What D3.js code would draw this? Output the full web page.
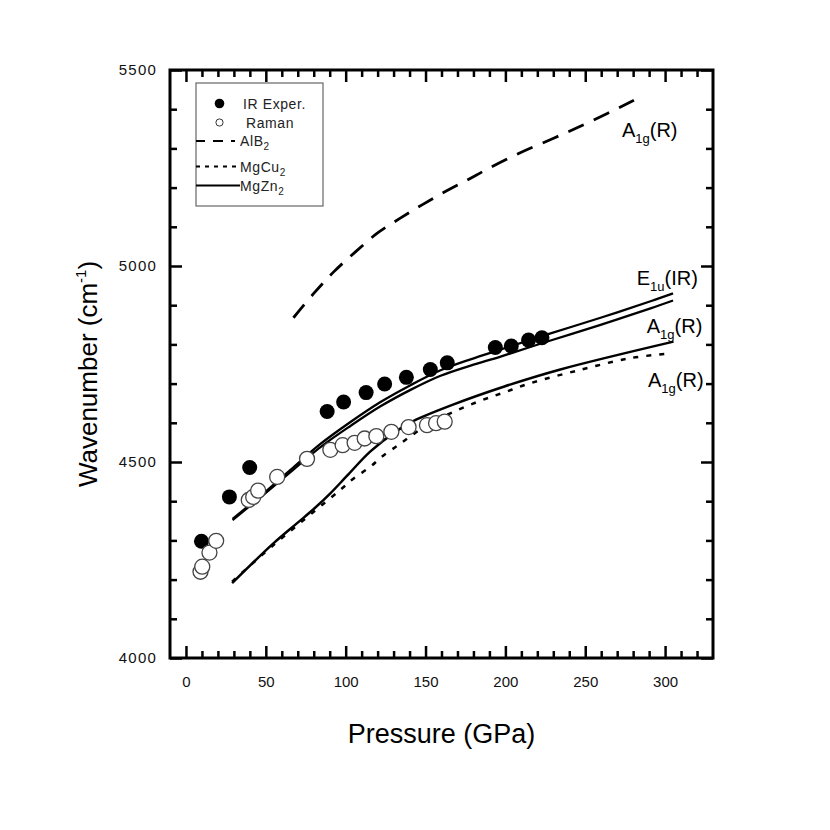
<!DOCTYPE html>
<html>
<head>
<meta charset="utf-8">
<script src="https://d3js.org/d3.v7.min.js"></script>
<style>
body { margin: 0; background: #fff; }
svg { font-family: "Liberation Sans", Arial, sans-serif; }
.tick text { fill: #111; }
.xt text { font-size: 15px; }
.yt text { font-size: 15px; letter-spacing: 1.2px; }
.tick line { stroke: #000; stroke-width: 2.5; }
.legend text { font-size: 14px; letter-spacing: 0.6px; fill: #222; }
.mode text { font-size: 20px; }
</style>
</head>
<body>
<script>

// IR experiment (filled) and Raman (open) points, pressure in GPa / wavenumber in cm-1
var irP = [9.7, 27.2, 39.9, 88.4, 98.7, 112.8, 124.4, 138, 153, 163.6, 193.7, 203.7, 214.5, 222.9];
var irW = [4298, 4411, 4486, 4629, 4653, 4677, 4699, 4716, 4736, 4753, 4792, 4796, 4811, 4817];

var ramanP = [9.1, 10.2, 14.7, 18.9, 39.3, 42.1, 45.2, 57.1, 75.8, 90.4, 98.1, 105.6, 111.9, 119.2, 128.6, 139.4, 150.9, 156.6, 162];
var ramanW = [4220, 4233, 4269, 4299, 4403, 4411, 4427, 4462, 4508, 4531, 4543, 4549, 4560, 4566, 4577, 4589, 4594, 4599, 4603];

// AlB2 A1g(R) - dashed
var alb2P = [67.3, 80, 92.5, 106.1, 119.6, 134.2, 147.8, 162.4, 176, 189.5, 208.3, 230.2, 251.1, 280.5];
var alb2W = [4868, 4930, 4985, 5036, 5083, 5122, 5156, 5190, 5219, 5249, 5287, 5326, 5364, 5423];

// E1u(IR) pair - both solid
var e1uP = [29.2, 46.6, 65.4, 84.2, 103, 121.8, 140.6, 159.4, 178.2, 197, 228.3, 259.6, 290.9, 305];
var e1uAW = [4355, 4413, 4480, 4546, 4602, 4653, 4696, 4734, 4762, 4787, 4828, 4868, 4910, 4930];
var e1uBW = [4352, 4410, 4474, 4538, 4592, 4642, 4684, 4720, 4746, 4769, 4810, 4850, 4892, 4912];

// MgZn2 A1g(R) - solid
var mgzn2P = [28.9, 54.9, 69.6, 80, 90.4, 100.9, 115.5, 132.2, 142.6, 167.6, 198.9, 234.4, 305.3];
var mgzn2W = [4191, 4293, 4344, 4380, 4420, 4465, 4527, 4580, 4605, 4647, 4692, 4736, 4807];

// MgCu2 A1g(R) - dotted
var mgcu2P = [28.9, 54.8, 80, 96.7, 105, 115.5, 122.8, 132.2, 139.4, 150, 165.5, 182.2, 198.9, 215.6, 246.9, 278.2, 303.2];
var mgcu2W = [4195, 4288, 4373, 4429, 4458, 4488, 4514, 4541, 4562, 4592, 4624, 4653, 4677, 4701, 4735, 4765, 4777];

// tick values
var xMajor = [0, 50, 100, 150, 200, 250, 300];
var xMinor = d3.range(0, 330, 10).filter(function(v) { return v % 50 != 0; });
var yMajor = [4000, 4500, 5000, 5500];
var yMinor = d3.range(4100, 5500, 100).filter(function(v) { return v % 500 != 0; });

// mode labels: [pressure, wavenumber, main, sub, tail]
var modeLabels = [
    [273, 5330, "A", "1g", "(R)"],
    [282.2, 4952, "E", "1u", "(IR)"],
    [288.5, 4828, "A", "1g", "(R)"],
    [289.3, 4692, "A", "1g", "(R)"]
];

var margin = {top: 70, left: 170};
var width = 543, height = 588;

var svg = d3.select("body").append("svg")
    .attr("width", 830)
    .attr("height", 830);

var g = svg.append("g")
    .attr("transform", "translate(" + margin.left + "," + margin.top + ")");

var x = d3.scaleLinear().domain([-10, 330]).range([0, width]);
var y = d3.scaleLinear().domain([4000, 5500]).range([height, 0]);

function zip(ps, ws) { return ps.map(function(p, i) { return [p, ws[i]]; }); }

// axes, ticks pointing inwards on all four sides
function addAxis(axis, cls, tr) {
    var a = g.append("g").attr("class", cls).attr("transform", tr).call(axis);
    a.select(".domain").remove();
    return a;
}

addAxis(d3.axisBottom(x).tickValues(xMajor).tickSize(-12).tickPadding(18).tickFormat(d3.format("d")), "xt", "translate(0," + height + ")");
addAxis(d3.axisBottom(x).tickValues(xMinor).tickSize(-7).tickFormat(""), "xt", "translate(0," + height + ")");
addAxis(d3.axisTop(x).tickValues(xMajor).tickSize(-12).tickFormat(""), "xt", "translate(0,0)");
addAxis(d3.axisTop(x).tickValues(xMinor).tickSize(-7).tickFormat(""), "xt", "translate(0,0)");

addAxis(d3.axisLeft(y).tickValues(yMajor).tickSize(-12).tickPadding(13).tickFormat(d3.format("d")), "yt", "translate(0,0)");
addAxis(d3.axisLeft(y).tickValues(yMinor).tickSize(-7).tickFormat(""), "yt", "translate(0,0)");
addAxis(d3.axisRight(y).tickValues(yMajor).tickSize(-12).tickFormat(""), "yt", "translate(" + width + ",0)");
addAxis(d3.axisRight(y).tickValues(yMinor).tickSize(-7).tickFormat(""), "yt", "translate(" + width + ",0)");

g.append("rect")
    .attr("width", width)
    .attr("height", height)
    .attr("fill", "none")
    .attr("stroke", "#000")
    .attr("stroke-width", 3);

// curves
var line = d3.line()
    .x(function(d) { return x(d[0]); })
    .y(function(d) { return y(d[1]); })
    .curve(d3.curveCatmullRom.alpha(0.5));

var curves = [
    [zip(alb2P, alb2W), "17,11", 2.8],
    [zip(e1uP, e1uAW), null, 2.3],
    [zip(e1uP, e1uBW), null, 2.3],
    [zip(mgzn2P, mgzn2W), null, 2.5],
    [zip(mgcu2P, mgcu2W), "5,8", 2.5]
];

curves.forEach(function(c) {
    g.append("path")
        .datum(c[0])
        .attr("d", line)
        .attr("fill", "none")
        .attr("stroke", "#000")
        .attr("stroke-width", c[2])
        .attr("stroke-dasharray", c[1]);
});

// points
g.selectAll(".ir")
    .data(zip(irP, irW))
  .enter().append("circle")
    .attr("class", "ir")
    .attr("cx", function(d) { return x(d[0]); })
    .attr("cy", function(d) { return y(d[1]); })
    .attr("r", 7.5)
    .attr("fill", "#000");

g.selectAll(".raman")
    .data(zip(ramanP, ramanW))
  .enter().append("circle")
    .attr("class", "raman")
    .attr("cx", function(d) { return x(d[0]); })
    .attr("cy", function(d) { return y(d[1]); })
    .attr("r", 7.5)
    .attr("fill", "#fff")
    .attr("stroke", "#444")
    .attr("stroke-width", 1.3);

// mode labels with subscripts
var modes = g.append("g").attr("class", "mode");
modeLabels.forEach(function(m) {
    var t = modes.append("text")
        .attr("x", x(m[0]))
        .attr("y", y(m[1]));
    t.append("tspan").text(m[2]);
    t.append("tspan").attr("font-size", "13px").attr("dy", 6).text(m[3]);
    t.append("tspan").attr("dy", -6).text(m[4]);
});

// axis titles
svg.append("text")
    .attr("x", 441.5)
    .attr("y", 743)
    .attr("text-anchor", "middle")
    .style("font-size", "27px")
    .text("Pressure (GPa)");

var yt = svg.append("text")
    .attr("transform", "translate(97,374) rotate(-90)")
    .attr("text-anchor", "middle")
    .style("font-size", "26px");
yt.append("tspan").text("Wavenumber (cm");
yt.append("tspan").attr("font-size", "15px").attr("dy", -11).text("-1");
yt.append("tspan").attr("dy", 11).text(")");

// legend
var legend = svg.append("g").attr("class", "legend");

legend.append("rect")
    .attr("x", 196).attr("y", 83)
    .attr("width", 127).attr("height", 123)
    .attr("fill", "#fff")
    .attr("stroke", "#666")
    .attr("stroke-width", 1.2);

legend.append("circle").attr("cx", 219.5).attr("cy", 103.5).attr("r", 4.8).attr("fill", "#000");
legend.append("circle").attr("cx", 219.5).attr("cy", 122.5).attr("r", 3.6)
    .attr("fill", "#fff").attr("stroke", "#333").attr("stroke-width", 1);

legend.append("line").attr("x1", 196).attr("x2", 235).attr("y1", 141).attr("y2", 141)
    .attr("stroke", "#000").attr("stroke-width", 2.2).attr("stroke-dasharray", "10,8").attr("stroke-dashoffset", 1);
legend.append("line").attr("x1", 196).attr("x2", 237).attr("y1", 166.5).attr("y2", 166.5)
    .attr("stroke", "#000").attr("stroke-width", 2.2).attr("stroke-dasharray", "4,5");
legend.append("line").attr("x1", 196).attr("x2", 240).attr("y1", 185.5).attr("y2", 185.5)
    .attr("stroke", "#000").attr("stroke-width", 1.8);

legend.append("text").attr("x", 243).attr("y", 108.5).text("IR Exper.");
legend.append("text").attr("x", 246).attr("y", 128).text("Raman");

var names = [["AlB", 146], ["MgCu", 171.5], ["MgZn", 190.5]];
names.forEach(function(n) {
    var t = legend.append("text").attr("x", 240).attr("y", n[1]);
    t.append("tspan").text(n[0]);
    t.append("tspan").attr("font-size", "10px").attr("dy", 4).text("2");
});

</script>
</body>
</html>
